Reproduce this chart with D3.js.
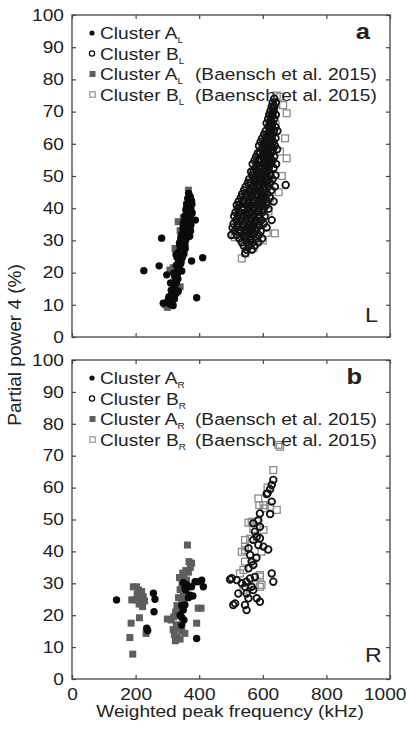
<!DOCTYPE html>
<html>
<head>
<meta charset="utf-8">
<script src="https://cdn.jsdelivr.net/npm/d3@7/dist/d3.min.js"></script>
<style>
  body { margin: 0; background: #fff; }
  text { font-family: "Liberation Sans", Arial, sans-serif; fill: #222; }
</style>
</head>
<body>
<div id="chart"></div>
<script>
// tick values
var xTicks = [0, 200, 400, 600, 800, 1000];
var yTicks = [0, 10, 20, 30, 40, 50, 60, 70, 80, 90, 100];

// legend
var legendNames = ['Cluster A', 'Cluster B', 'Cluster A', 'Cluster B'];
var legendRefs = ['', '', '(Baensch et al. 2015)', '(Baensch et al. 2015)'];

// panel a (L): [weighted peak frequency kHz, partial power 4 %]
var clusterAL = [
  [226,20.6],[282,30.7],[274,22.1],[298,19.3],[376,23.6],[411,24.6],[392,12.2],
  [287,10.5],[300,10.8],[308,10.2],[313,10.6],[318,9.8],[305,12.5],[315,12.8],[322,11.8],
  [312,14.5],[322,15],[318,16.5],[328,16.8],[325,18.5],[333,18],[320,19.8],[330,20.2],[338,21],
  [328,22.3],[335,23.2],[342,22.8],[332,24.6],[340,25.4],[347,24.8],[336,26.5],[344,27.2],[351,26.8],
  [339,28.5],[347,29],[355,28.5],[342,30.3],[350,30.8],[358,30.2],[346,32],[354,32.6],[362,32],[370,31.3],
  [349,33.8],[357,34.4],[365,33.6],[374,34.8],[352,35.8],[360,36.2],[368,35.7],[388,36.3],[355,37.6],
  [363,38],[372,37.5],[378,38.5],[358,39.5],[366,40],[374,39.7],[361,41.3],[369,41.8],[377,41.2],
  [364,43],[372,43.5],[367,44.6],[371,42.5],[343,31.2],[338,29.2],[350,35],[356,27.5],[352,25.8],
  [345,20.5],[334,14.2],[310,16.8],[326,13.4],[331,19.4],[337,24],[348,28],[353,29.6],[359,33],
  [366,36.9],[370,39],[362,40.5],[373,33],[345,26],[327,25.6],[318,13.5],[303,11.6],[376,42.3]
];
var clusterBL = [
  [636,74],[631,72.8],[641,72.8],[628,71.5],[637,71.5],[634,70.2],[624,70.2],
  [630,69],[641,69],[620,69],[626,67.8],[636,67.8],[617,67.8],[612,66.4],[631,66.4],[622,66.4],
  [640,65.2],[618,65.2],[628,65.2],[609,64],[624,64],[635,64],[646,64],[616,62.9],[630,62.9],[604,62.9],
  [628,61.7],[611,61.7],[621,61.7],[640,61.7],[598,61.7],[606,60.6],[633,60.6],[617,60.6],[593,60.6],
  [601,59.4],[625,59.4],[612,59.4],[638,59.4],[588,59.4],[619,58.3],[596,58.3],[607,58.3],[631,58.3],[645,58.3],
  [591,57.1],[614,57.1],[603,57.1],[626,57.1],[584,57.1],[599,56],[622,56],[610,56],[636,56],[579,56],
  [588,54.8],[605,54.8],[618,54.8],[594,54.8],[630,54.8],[574,54.8],
  [582,53.7],[612,53.7],[600,53.7],[625,53.7],[568,53.7],[642,53.7],
  [590,52.5],[607,52.5],[576,52.5],[619,52.5],[597,52.5],[634,52.5],
  [571,51.3],[584,51.3],[603,51.3],[615,51.3],[593,51.3],[563,51.3],
  [580,50.2],[598,50.2],[566,50.2],[611,50.2],[624,50.2],[640,50.2],
  [572,49],[589,49],[557,49],[606,49],[617,49],[585,49],[631,49],
  [562,47.9],[578,47.9],[596,47.9],[553,47.9],[612,47.9],[623,47.9],[672,47.2],
  [569,46.7],[587,46.7],[546,46.7],[601,46.7],[581,46.7],[618,46.7],[638,46.7],
  [558,45.6],[575,45.6],[592,45.6],[541,45.6],[608,45.6],[627,45.6],
  [551,44.4],[566,44.4],[584,44.4],[599,44.4],[535,44.4],[614,44.4],[578,44.4],
  [545,43.3],[561,43.3],[577,43.3],[594,43.3],[531,43.3],[606,43.3],[622,43.3],
  [539,42.1],[555,42.1],[570,42.1],[588,42.1],[524,42.1],[600,42.1],[614,42.1],[634,42.1],
  [548,41],[563,41],[580,41],[527,41],[595,41],[518,41],[611,41],
  [535,39.8],[556,39.8],[572,39.8],[541,39.8],[589,39.8],[521,39.8],[603,39.8],[618,39.8],
  [528,38.7],[546,38.7],[565,38.7],[582,38.7],[514,38.7],[598,38.7],[555,38.7],
  [538,37.5],[552,37.5],[571,37.5],[522,37.5],[589,37.5],[606,37.5],[510,37.5],
  [531,36.3],[547,36.3],[563,36.3],[579,36.3],[516,36.3],[596,36.3],[628,36.3],
  [524,35.2],[541,35.2],[558,35.2],[573,35.2],[508,35.2],[588,35.2],[603,35.2],
  [519,34],[535,34],[552,34],[567,34],[583,34],[505,34],[612,34],
  [512,32.9],[528,32.9],[545,32.9],[561,32.9],[577,32.9],[594,32.9],
  [518,31.7],[537,31.7],[553,31.7],[570,31.7],[587,31.7],[501,31.7],
  [526,30.6],[545,30.6],[562,30.6],[580,30.6],[598,30.6],
  [534,29.4],[551,29.4],[568,29.4],[586,29.4],[540,28.3],[557,28.3],[575,28.3],
  [549,27.1],[566,27.1],[545,26],
  // denser core
  [603,56.6],[615,55.4],[592,53.1],[606,51.9],[585,50.8],[596,49.6],[574,48.4],[590,47.3],[604,46.1],
  [563,45],[580,43.9],[592,42.7],[556,41.6],[572,40.4],[586,39.3],[548,38.1],[563,37],[575,35.8],
  [540,34.6],[556,33.5],[570,32.3],[545,31.2],[560,30],[613,59.9],[622,63.5],[627,68.4],[632,71]
];
var baenschAL = [
  [366,45.6],[370,43.5],[360,41],[334,35.8],[340,33],[324,27.5],[330,25],[318,21.5],[308,20.8],
  [322,19],[340,15.6],[330,14],[314,12.5],[295,10],[300,9.2],[306,9.8],[310,11],[350,37],[355,30],[345,24]
];
var baenschBL = [
  [644,75],[654,74.6],[664,72],[675,69.5],[670,61.7],[654,57.6],[675,55.5],[660,50],[650,45],
  [638,32.2],[623,43],[618,39],[612,32.3],[570,27.6],[534,24.4],[512,31],[507,31.7],[545,26],
  [600,30],[630,60],[615,52],[590,37],[560,33],[640,66],[600,42],[585,47]
];

// panel b (R)
var clusterAR = [
  [140,24.8],[256,26.9],[261,25],[258,21.1],[235,15.9],[238,15.2],[350,30.2],[355,28.4],[376,28.9],
  [371,26.3],[358,27.9],[387,30.5],[408,31],[413,28.9],[397,30.5],[380,26],[355,23.2],[350,21.6],
  [340,20],[345,23],[345,19.3],[345,16.9],[392,12.7],[362,29.5],[366,25.5],[352,18.5]
];
var clusterBR = [
  [633,62.4],[628,60.8],[623,59.5],[615,58.2],[628,55.6],[623,51.7],[586,49.8],[591,47.7],[575,46.2],
  [581,44.6],[591,44.1],[570,43.6],[586,42],[602,41.5],[617,40.6],[555,41],[560,38.9],[565,36.8],
  [570,35.7],[555,34.7],[628,33.1],[633,30.5],[502,31.6],[518,31],[534,30],[544,28.9],[565,28.9],
  [570,27.9],[549,26.8],[523,26.8],[581,25.3],[555,25.3],[513,23.7],[544,23.2],[549,21.6],[591,24.2],
  [497,31.2],[507,23.2],[570,48.8],[591,51.9],[612,58],[580,38],[575,32],[560,31.5],[548,30.5]
];
var baenschAR = [
  [191,7.8],[182,13],[186,17.5],[212,19.2],[222,22.7],[233,14.3],[203,28.9],[188,24.8],[198,24.8],
  [214,24.8],[224,25.8],[209,27.9],[219,27.4],[193,28.9],[228,24.5],[205,26.5],[211,23.5],
  [363,42],[376,36.3],[372,35],[366,33.5],[358,34],[352,32],[360,31],[346,30],[355,29],[340,28],
  [350,27],[335,25.5],[345,24.5],[330,23],[342,22],[326,21],[336,20],[312,18.5],[300,18.8],[320,19.5],
  [328,17],[318,15.5],[334,16],[322,14],[330,13],[325,12],[340,12.5],[345,15],[397,22.2],[406,22.2],
  [392,17.5],[355,14.3],[368,36.8],[338,31.8],[348,33.2],[352,25]
];
var baenschBR = [
  [649,73.4],[654,72.8],[633,65.5],[586,56.6],[644,53],[555,49],[570,47],[544,43.6],[623,54],[602,54.5],
  [589,54.5],[607,53.5],[581,49.3],[565,49.3],[602,46.7],[544,41.5],[534,39.9],[596,39.9],[544,36.8],
  [539,34.2],[591,32.1],[528,33.1],[596,29.5],[575,29.5],[539,27.9],[544,40.4],[591,32.6],[591,28.9],
  [570,36.3],[560,44],[615,60]
];

var W = 407, H = 731;
var SX = 1.16; // the figure's type is a bit wide
var svg = d3.select('#chart').append('svg')
  .attr('width', W)
  .attr('height', H);
svg.append('rect').attr('width', W).attr('height', H).attr('fill', '#fff');

var x = d3.scaleLinear().domain([0, 1000]).range([72, 390]);

function wideText(g, px, py, str, size, anchor, weight){
  return g.append('text')
    .attr('transform', 'translate(' + px + ',' + py + ') scale(' + SX + ',1)')
    .attr('font-size', size)
    .attr('text-anchor', anchor || 'start')
    .attr('font-weight', weight || 'normal')
    .text(str);
}

function drawPanel(top, bottom, sets, sub, letter, letterX, side, sideY, showX){
  var y = d3.scaleLinear().domain([0, 100]).range([bottom, top]);
  var g = svg.append('g');

  // points: older data first
  g.selectAll('rect.ba').data(sets.ba).enter().append('rect')
    .attr('x', function(d){ return x(d[0]) - 3.5; })
    .attr('y', function(d){ return y(d[1]) - 3.5; })
    .attr('width', 7).attr('height', 7)
    .attr('fill', '#5e5e5e');
  g.selectAll('rect.bb').data(sets.bb).enter().append('rect')
    .attr('x', function(d){ return x(d[0]) - 3.4; })
    .attr('y', function(d){ return y(d[1]) - 3.4; })
    .attr('width', 6.8).attr('height', 6.8)
    .attr('fill', 'none').attr('stroke', '#8c8c8c').attr('stroke-width', 1.3);
  g.selectAll('circle.b').data(sets.b).enter().append('circle')
    .attr('cx', function(d){ return x(d[0]); })
    .attr('cy', function(d){ return y(d[1]); })
    .attr('r', 3.3)
    .attr('fill', 'none').attr('stroke', '#111').attr('stroke-width', 1.8);
  g.selectAll('circle.a').data(sets.a).enter().append('circle')
    .attr('cx', function(d){ return x(d[0]); })
    .attr('cy', function(d){ return y(d[1]); })
    .attr('r', 3.7)
    .attr('fill', '#0a0a0a');

  // frame
  g.append('rect')
    .attr('x', 72).attr('y', top)
    .attr('width', 318).attr('height', bottom - top)
    .attr('fill', 'none').attr('stroke', '#444').attr('stroke-width', 1.3);

  // axes, ticks pointing inward
  var left = g.append('g').attr('transform', 'translate(72,0)')
    .call(d3.axisLeft(y).tickValues(yTicks).tickSizeInner(-4).tickSizeOuter(0).tickPadding(8));
  left.selectAll('text')
    .attr('x', -8 / SX)
    .attr('transform', 'scale(' + SX + ',1)');
  var right = g.append('g').attr('transform', 'translate(390,0)')
    .call(d3.axisRight(y).tickValues(yTicks).tickSizeInner(-4).tickSizeOuter(0).tickFormat(''));
  var topAx = g.append('g').attr('transform', 'translate(0,' + top + ')')
    .call(d3.axisTop(x).tickValues(xTicks).tickSizeInner(-4).tickSizeOuter(0).tickFormat(''));
  var bot = g.append('g').attr('transform', 'translate(0,' + bottom + ')')
    .call(d3.axisBottom(x).tickValues(xTicks).tickSizeInner(-4).tickSizeOuter(0).tickPadding(9)
      .tickFormat(showX ? d3.format('d') : ''));
  bot.selectAll('text').attr('transform', 'scale(' + SX + ',1)');
  // last label sits against the page edge
  bot.selectAll('text').filter(function(d){ return d == 1000; })
    .attr('text-anchor', 'end').attr('x', 16 / SX);

  [left, right, topAx, bot].forEach(function(a){
    a.select('.domain').remove();
    a.selectAll('line').attr('stroke', '#444').attr('stroke-width', 1.2);
    a.selectAll('text').attr('font-size', 16.5).attr('fill', '#222')
      .style('font-family', '"Liberation Sans", Arial, sans-serif');
  });

  // legend
  var lg = g.append('g');
  legendNames.forEach(function(name, i){
    var by = top + 24 + i * 20.5;
    var my = by - 6;
    if (i == 0) lg.append('circle').attr('cx', 92).attr('cy', my).attr('r', 2.6).attr('fill', '#111');
    if (i == 1) lg.append('circle').attr('cx', 92).attr('cy', my).attr('r', 2.6)
      .attr('fill', 'none').attr('stroke', '#111').attr('stroke-width', 1.3);
    if (i == 2) lg.append('rect').attr('x', 89.5).attr('y', my - 3).attr('width', 6).attr('height', 6)
      .attr('fill', '#5e5e5e');
    if (i == 3) lg.append('rect').attr('x', 89.8).attr('y', my - 2.7).attr('width', 5.4).attr('height', 5.4)
      .attr('fill', 'none').attr('stroke', '#8c8c8c').attr('stroke-width', 1.1);
    var t = wideText(lg, 100, by, name, 16.5);
    t.append('tspan').attr('dy', 4).attr('font-size', 8.5).attr('fill', '#222').text(sub);
    if (legendRefs[i]) wideText(lg, 195, by, legendRefs[i], 16.5);
  });

  wideText(g, letterX, top + 24, letter, 22, 'end', 'bold');
  wideText(g, 365, sideY, side, 20);
}

drawPanel(15, 337, {a: clusterAL, b: clusterBL, ba: baenschAL, bb: baenschBL}, 'L', 'a', 370, 'L', 322, false);
drawPanel(360, 679, {a: clusterAR, b: clusterBR, ba: baenschAR, bb: baenschBR}, 'R', 'b', 362, 'R', 662, true);

// axis titles
svg.append('text')
  .attr('transform', 'translate(21,345) rotate(-90)')
  .attr('text-anchor', 'middle')
  .attr('font-size', 19)
  .text('Partial power 4 (%)');
wideText(svg, 230, 717, 'Weighted peak frequency (kHz)', 16.5, 'middle');
</script>
</body>
</html>
